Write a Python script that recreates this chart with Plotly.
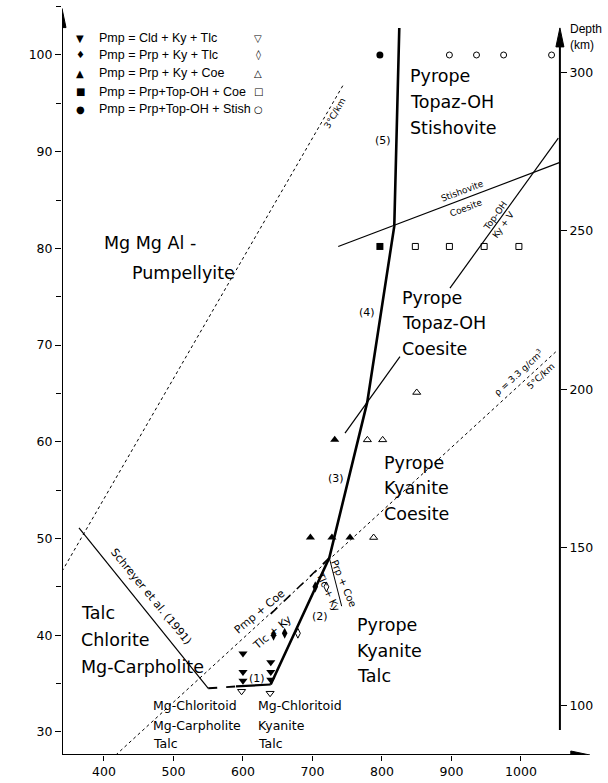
import plotly.graph_objects as go

# ---------------- data ----------------
# main univariant curve, segments (5)-(4)-(3)-(2)
main_T = [824.9, 817.7, 778.8, 724.2, 639.9]
main_P = [102.8, 82.3, 64.1, 48.0, 34.9]
# curve (1)
c1_solid_T = [590.0, 639.9]
c1_solid_P = [34.7, 34.9]
c1_dash_T = [550.0, 590.0]
c1_dash_P = [34.5, 34.7]
# Schreyer et al. (1991)
schreyer_T = [364.0, 550.0]
schreyer_P = [51.1, 34.5]
# Pmp + Coe = Tlc + Ky
pmpcoe_T = [724.2, 640.0]
pmpcoe_P = [48.0, 42.2]
# Prp + Coe = Tlc + Ky
prpcoe_T = [724.2, 742.0]
prpcoe_P = [48.0, 43.0]
# Stishovite / Coesite
stish_T = [737.0, 1056.0]
stish_P = [80.2, 88.9]
# Top-OH = Ky + V (interrupted by the field label)
topoh_lo_T = [746.8, 825.9]
topoh_lo_P = [60.9, 68.8]
topoh_hi_T = [897.8, 1053.7]
topoh_hi_P = [75.9, 91.4]
# geotherms
geo3_T = [339.6, 745.0]
geo3_P = [46.6, 97.0]
geo5_T = [416.9, 1050.0]
geo5_P = [27.6, 69.3]

# experiments
cld_T = [600, 600, 600, 640, 640, 640]
cld_P = [38.1, 36.2, 35.3, 37.2, 36.2, 35.4]
cld_open_T = [598, 639]
cld_open_P = [34.2, 34.0]
prpkytlc_T = [644, 660, 704]
prpkytlc_P = [40.0, 40.2, 45.0]
prpkytlc_open_T = [679, 720]
prpkytlc_open_P = [40.2, 45.0]
prpkycoe_T = [697, 728, 754, 732]
prpkycoe_P = [50.1, 50.1, 50.1, 60.2]
prpkycoe_open_T = [788, 779, 801, 850]
prpkycoe_open_P = [50.1, 60.2, 60.2, 65.1]
topcoe_T = [797]
topcoe_P = [80.2]
topcoe_open_T = [848, 897, 947, 997]
topcoe_open_P = [80.2, 80.2, 80.2, 80.2]
topstish_T = [797]
topstish_P = [100.0]
topstish_open_T = [897, 936, 975, 1044]
topstish_open_P = [100.0, 100.0, 100.0, 100.0]

x_ticks = [400, 500, 600, 700, 800, 900, 1000]
p_ticks = [30, 40, 50, 60, 70, 80, 90, 100]
depth_ticks = [100, 150, 200, 250, 300]

legend_rows = ["Pmp = Cld + Ky + Tlc", "Pmp = Prp + Ky + Tlc", "Pmp = Prp + Ky + Coe",
               "Pmp = Prp+Top-OH + Coe", "Pmp = Prp+Top-OH + Stish"]
legend_filled = ["▼", "♦", "▲", "■", "●"]
legend_open = ["▽", "◊", "△", "□", "○"]

# ---------------- axes geometry ----------------
T_MIN, T_MAX = 339.6, 1099.3
P_MIN, P_MAX = 27.61, 105.17
T_RIGHT = 1056.0
KBAR_PER_KM = 0.3272

FONT = "DejaVu Sans"
fig = go.Figure()


def line(T, P, width=1.0, dash="solid"):
    fig.add_trace(go.Scatter(x=T, y=P, mode="lines", hoverinfo="skip", showlegend=False,
                             line=dict(color="black", width=width, dash=dash)))


def marks(T, P, symbol, size, open_=False):
    fig.add_trace(go.Scatter(
        x=T, y=P, mode="markers", hoverinfo="skip", showlegend=False,
        marker=dict(symbol=symbol, size=size, color="black",
                    line=dict(color="black", width=1 if open_ else 0))))


line(geo3_T, geo3_P, 1, "dot")
line(geo5_T, geo5_P, 1, "dot")
line(schreyer_T, schreyer_P, 1.2)
line(stish_T, stish_P, 1.2)
line(topoh_lo_T, topoh_lo_P, 1.2)
line(topoh_hi_T, topoh_hi_P, 1.2)
line(prpcoe_T, prpcoe_P, 1.0)
line(pmpcoe_T, pmpcoe_P, 1.6, "dash")
line(c1_dash_T, c1_dash_P, 2.0, "dash")
line(c1_solid_T, c1_solid_P, 2.2)
line(main_T, main_P, 2.6)

marks(cld_T, cld_P, "triangle-down", 8)
marks(cld_open_T, cld_open_P, "triangle-down-open", 7, True)
marks(prpkytlc_T, prpkytlc_P, "diamond-tall", 8)
marks(prpkytlc_open_T, prpkytlc_open_P, "diamond-tall-open", 7, True)
marks(prpkycoe_T, prpkycoe_P, "triangle-up", 8)
marks(prpkycoe_open_T, prpkycoe_open_P, "triangle-up-open", 7, True)
marks(topcoe_T, topcoe_P, "square", 7)
marks(topcoe_open_T, topcoe_open_P, "square-open", 6, True)
marks(topstish_T, topstish_P, "circle", 7)
marks(topstish_open_T, topstish_open_P, "circle-open", 6, True)

# depth axis carrier
fig.add_trace(go.Scatter(x=[T_RIGHT, T_RIGHT], y=[depth_ticks[0], depth_ticks[-1]], yaxis="y2",
                         mode="none", hoverinfo="skip", showlegend=False))

ann = []
shapes = []


def txt(T, P, s, size, angle=0, xanchor="center", yanchor="middle", align="center", family=FONT):
    ann.append(dict(x=T, y=P, xref="x", yref="y", text=s, showarrow=False, textangle=angle,
                    xanchor=xanchor, yanchor=yanchor, align=align,
                    font=dict(family=family, size=size, color="black")))


def axis_line(T0, P0, T1, P1):
    shapes.append(dict(type="line", xref="x", yref="y", x0=T0, y0=P0, x1=T1, y1=P1,
                       line=dict(color="black", width=2), layer="above"))


def head(T, P, path):
    shapes.append(dict(type="path", xref="x", yref="y", xsizemode="pixel", ysizemode="pixel",
                       xanchor=T, yanchor=P, path=path, fillcolor="black",
                       line=dict(color="black", width=1), layer="above"))


UP_HEAD = "M 0,0 L -4,-19 L 4,-19 Z"
RIGHT_HEAD = "M 0,0 L -19,4 L -19,-4 Z"

# axes drawn as arrows
axis_line(T_MIN, P_MIN, T_MIN, 103.0)
head(T_MIN, 104.8, UP_HEAD)
axis_line(T_MIN, P_MIN, 1075.0, P_MIN)
head(1099.0, P_MIN, RIGHT_HEAD)
axis_line(T_RIGHT, 30.2, T_RIGHT, 101.0)
head(T_RIGHT, 102.8, UP_HEAD)

# field labels
big = 17.5
for P, s in zip([97.83, 95.14, 92.45], ["Pyrope", "Topaz-OH", "Stishovite"]):
    txt(837, P, s, big, xanchor="left")
txt(397, 80.6, "Mg Mg Al -", big, xanchor="left")
txt(437.4, 77.5, "Pumpellyite", big, xanchor="left")
for P, s in zip([74.9, 72.3, 69.6], ["Pyrope", "Topaz-OH", "Coesite"]):
    txt(826, P, s, big, xanchor="left")
for P, s in zip([57.8, 55.2, 52.5], ["Pyrope", "Kyanite", "Coesite"]):
    txt(800, P, s, big, xanchor="left")
for P, s in zip([41.1, 38.4, 35.8], ["Pyrope", "Kyanite", "Talc"]):
    txt(761, P, s, big, xanchor="left")
for P, s in zip([42.3, 39.5, 36.7], ["Talc", "Chlorite", "Mg-Carpholite"]):
    txt(364, P, s, big, xanchor="left")
for P, s in zip([32.7, 30.7, 28.8], ["Mg-Chloritoid", "Mg-Carpholite", "Talc"]):
    txt(467, P, s, 12.5, xanchor="left")
for P, s in zip([32.7, 30.7, 28.8], ["Mg-Chloritoid", "Kyanite", "Talc"]):
    txt(619, P, s, 12.5, xanchor="left")

# reaction labels
txt(624.5, 42.4, "Pmp + Coe", 11, -40)
txt(642.2, 40.3, "Tlc + Ky", 11, -40)
txt(744.6, 45.3, "Prp + Coe", 10, 67)
txt(722.3, 44.5, "Tlc + Ky", 10, 65)
txt(619.7, 35.5, "(1)", 11)
txt(710.8, 41.9, "(2)", 11)
txt(733.8, 56.2, "(3)", 11)
txt(778.0, 73.4, "(4)", 11)
txt(801.4, 91.2, "(5)", 11)
txt(915.8, 85.9, "Stishovite", 9, -20.8)
txt(920.9, 84.2, "Coesite", 9, -20.8)
txt(962.6, 83.4, "Top-OH", 9, -54.2)
txt(975.5, 82.5, "Ky + V", 9, -54.2)
txt(467.6, 44.0, "Schreyer et al. (1991)", 11, 50.7)
txt(732.4, 94.0, "3°C/km", 9, -60)
txt(996.9, 67.2, "ρ = 3.3 g/cm<sup>3</sup>", 9, -42.6)
txt(1028.9, 66.8, "5°C/km", 9, -42.6)

# legend
for P, f, s, o in zip([101.73, 100.0, 98.1, 96.2, 94.4], legend_filled, legend_rows, legend_open):
    txt(365.5, P, f, 10)
    txt(389.5, P, s, 12.5, xanchor="left", family="Liberation Sans")
    txt(622.2, P, o, 10)

# axis titles
txt(333.5, 102.4, "P<sub>fl</sub> /kbar", 13, xanchor="right", family="Liberation Sans")
txt(1067.5, 101.9, "Depth<br>(km)", 12, xanchor="left", align="left", family="Liberation Sans")
txt(1082.0, 25.9, "T/°C", 13, family="Liberation Sans")

fig.update_layout(
    width=608, height=783,
    margin=dict(l=62, r=18, t=5, b=28),
    paper_bgcolor="white", plot_bgcolor="white",
    showlegend=False,
    annotations=ann,
    shapes=shapes,
    xaxis=dict(range=[T_MIN, T_MAX], tickvals=x_ticks, ticks="outside", ticklen=5,
               tickwidth=1, tickcolor="black", showline=False, showgrid=False, zeroline=False,
               tickfont=dict(family=FONT, size=12.5, color="black")),
    yaxis=dict(range=[P_MIN, P_MAX], tickvals=p_ticks, ticks="outside", ticklen=6,
               tickwidth=1, tickcolor="black", showline=False, showgrid=False, zeroline=False,
               minor=dict(dtick=5, tick0=0, ticks="outside", ticklen=5, tickcolor="black"),
               tickfont=dict(family=FONT, size=12.5, color="black")),
    yaxis2=dict(overlaying="y", side="right", anchor="free",
                position=(T_RIGHT - T_MIN) / (T_MAX - T_MIN),
                range=[P_MIN / KBAR_PER_KM, P_MAX / KBAR_PER_KM], tickvals=depth_ticks,
                ticks="outside", ticklen=6, tickwidth=1, tickcolor="black", showline=False,
                showgrid=False, zeroline=False,
                tickfont=dict(family=FONT, size=12.5, color="black")),
)

fig.write_html("out.html", config={"displayModeBar": False},
               post_script="document.body.style.margin='0px';document.body.style.overflow='hidden';")
